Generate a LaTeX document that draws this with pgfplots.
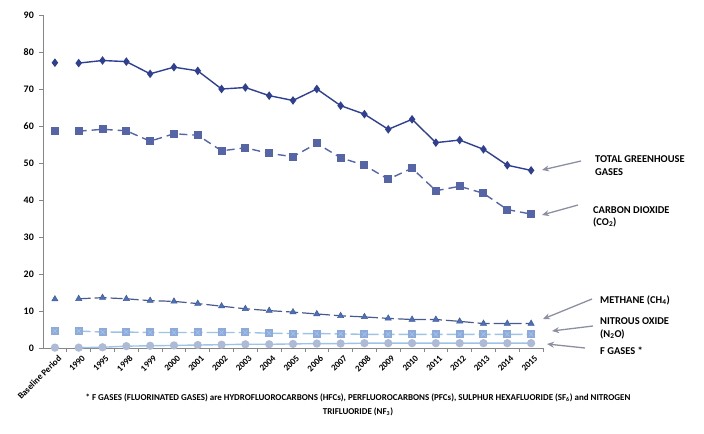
\documentclass[border=0pt]{standalone}
\usepackage{pgfplots}
\pgfplotsset{compat=1.18}
\usepackage{fontspec}
\setmainfont{Carlito}[BoldFont={Carlito Bold}]
\usetikzlibrary{arrows.meta}

\definecolor{totcol}{HTML}{2F3F92}
\definecolor{co2col}{HTML}{5565A8}
\definecolor{ch4line}{HTML}{4A5A8E}
\definecolor{ch4mark}{HTML}{4472C4}
\definecolor{n2oline}{HTML}{9DC3E6}
\definecolor{n2omark}{HTML}{8EA9DB}
\definecolor{fline}{HTML}{9DC3E6}
\definecolor{fmark}{HTML}{ADBBD6}
\definecolor{axcol}{HTML}{868686}
\definecolor{arrcol}{HTML}{8C8FA0}

\begin{document}
\begin{tikzpicture}[x=1bp,y=1bp]
\useasboundingbox (-43,-86) rectangle (661,348);
\begin{axis}[
  at={(0,0)}, anchor=south west,
  width=500bp, height=333bp, scale only axis,
  xmin=-0.5, xmax=20.5, ymin=0, ymax=90,
  axis x line*=bottom, axis y line*=left,
  axis line style={axcol, line width=0.8pt},
  ytick={0,10,...,90},
  xtick={0,...,20},
  xticklabels={Baseline Period,1990,1995,1998,1999,2000,2001,2002,2003,2004,2005,2006,2007,2008,2009,2010,2011,2012,2013,2014,2015},
  minor xtick={0.5,1.5,...,20.5},
  major x tick style={draw=none},
  minor x tick style={axcol, line width=0.8pt},
  y tick style={axcol, line width=0.8pt},
  tick align=outside,
  major tick length=4bp, minor tick length=4bp,
  /pgf/number format/assume math mode=true,
  yticklabel style={font=\bfseries\fontsize{10}{12}\selectfont, inner sep=1bp, xshift=-4bp},
  xticklabel style={font=\bfseries\fontsize{9}{11}\selectfont, rotate=45, anchor=east, inner sep=1bp, yshift=-7bp, xshift=1bp},
  unbounded coords=jump,
  clip=false,
]
% total greenhouse gases
\addplot[totcol, line width=1.4pt, mark=diamond*, mark size=3.2bp, mark options={solid}] coordinates {
 (0,77.1) (0.5,nan) (1,77.0) (2,77.7) (3,77.4) (4,74.1) (5,75.9) (6,74.9) (7,70.0) (8,70.4)
 (9,68.2) (10,66.9) (11,70.0) (12,65.5) (13,63.2) (14,59.1) (15,61.8) (16,55.5) (17,56.2)
 (18,53.7) (19,49.4) (20,48.0)};
% carbon dioxide
\addplot[co2col, line width=1.4pt, dash pattern=on 8bp off 5bp, mark=square*, mark size=3.3bp, mark options={solid}] coordinates {
 (0,58.6) (0.5,nan) (1,58.6) (2,59.1) (3,58.7) (4,55.9) (5,57.9) (6,57.5) (7,53.3) (8,54.1)
 (9,52.6) (10,51.7) (11,55.3) (12,51.4) (13,49.4) (14,45.6) (15,48.6) (16,42.5) (17,43.7)
 (18,41.8) (19,37.4) (20,36.2)};
% methane
\addplot[ch4line, line width=1.2pt, dash pattern=on 12bp off 4bp, mark=triangle*, mark size=3.6bp, mark options={solid, fill=ch4mark, draw=ch4line, line width=0.5pt}] coordinates {
 (0,13.2) (0.5,nan) (1,13.3) (2,13.6) (3,13.3) (4,12.8) (5,12.6) (6,12.0) (7,11.3) (8,10.6)
 (9,10.1) (10,9.7) (11,9.2) (12,8.7) (13,8.4) (14,8.0) (15,7.7) (16,7.7) (17,7.2)
 (18,6.6) (19,6.6) (20,6.6)};
% nitrous oxide
\addplot[n2oline, line width=1.4pt, dash pattern=on 12bp off 4bp, mark=square*, mark size=3.3bp, mark options={solid, fill=n2omark, draw=n2omark}] coordinates {
 (0,4.6) (0.5,nan) (1,4.6) (2,4.3) (3,4.3) (4,4.2) (5,4.2) (6,4.2) (7,4.2) (8,4.2)
 (9,4.0) (10,3.9) (11,3.9) (12,3.8) (13,3.7) (14,3.7) (15,3.7) (16,3.7) (17,3.7)
 (18,3.7) (19,3.7) (20,3.7)};
\addplot[only marks, mark=x, mark size=3bp, mark options={n2oline, line width=0.8pt}] coordinates {
 (0,4.6) (1,4.6) (2,4.3) (3,4.3) (4,4.2) (5,4.2) (6,4.2) (7,4.2) (8,4.2)
 (9,4.0) (10,3.9) (11,3.9) (12,3.8) (13,3.7) (14,3.7) (15,3.7) (16,3.7) (17,3.7)
 (18,3.7) (19,3.7) (20,3.7)};
% f gases
\addplot[fline, line width=1.4pt, mark=*, mark size=3.4bp, mark options={solid, fill=fmark, draw=fmark}] coordinates {
 (0,0.1) (0.5,nan) (1,0.1) (2,0.2) (3,0.5) (4,0.6) (5,0.7) (6,0.8) (7,0.9) (8,1.0)
 (9,1.0) (10,1.1) (11,1.2) (12,1.2) (13,1.3) (14,1.3) (15,1.3) (16,1.3) (17,1.3)
 (18,1.3) (19,1.3) (20,1.3)};
\end{axis}

\begin{scope}[font=\bfseries\fontsize{10.5}{12}\selectfont]
\node[anchor=west, inner sep=0] at (552,189) {TOTAL GREENHOUSE};
\node[anchor=west, inner sep=0] at (552,176) {GASES};
\node[anchor=west, inner sep=0] at (550,138) {CARBON DIOXIDE};
\node[anchor=west, inner sep=0] at (550,126) {(CO\textsubscript{2})};
\node[anchor=west, inner sep=0] at (557,48) {METHANE (CH\textsubscript{4})};
\node[anchor=west, inner sep=0] at (557,27) {NITROUS OXIDE};
\node[anchor=west, inner sep=0] at (557,14) {(N\textsubscript{2}O)};
\node[anchor=west, inner sep=0] at (557,-3) {F GASES *};
\end{scope}
\begin{scope}[font=\bfseries\fontsize{9}{11}\selectfont]
\node[inner sep=0] at (315,-50) {* F GASES (FLUORINATED GASES) are HYDROFLUOROCARBONS (HFCs), PERFLUOROCARBONS (PFCs), SULPHUR HEXAFLUORIDE (SF\textsubscript{6}) and NITROGEN};
\node[inner sep=0] at (315,-64) {TRIFLUORIDE (NF\textsubscript{3})};
\end{scope}

\begin{scope}[arrcol, line width=1.3pt, -{Stealth[length=7bp, width=6bp]}]
\draw (538,187) -- (499,178);
\draw (535,143) -- (499,133);
\draw (549,49) -- (500,29);
\draw (550,22) -- (509,17);
\draw (542,0) -- (504,4);
\end{scope}
\end{tikzpicture}
\end{document}
